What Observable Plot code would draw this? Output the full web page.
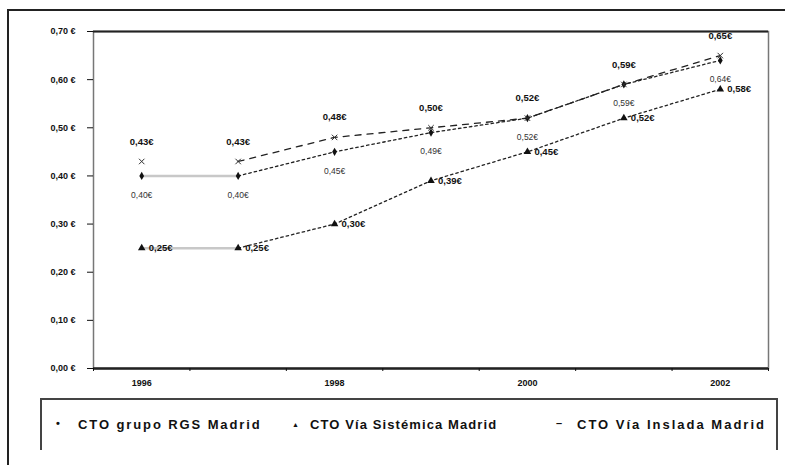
<!DOCTYPE html>
<html>
<head>
<meta charset="utf-8">
<script src="https://cdn.jsdelivr.net/npm/d3@7"></script>
<script src="https://cdn.jsdelivr.net/npm/@observablehq/plot@0.6"></script>
<style>
  html, body { margin: 0; padding: 0; background: #fff; overflow: hidden; }
  body { width: 785px; height: 465px; position: relative; font-family: "Liberation Sans", Arial, sans-serif; }
  #chart { position: absolute; left: 0; top: 0; }
  #outer { position: absolute; left: 7px; top: 9px; width: 776px; height: 454px; border-left: 2px solid #222; border-top: 2px solid #222; pointer-events: none; }
  #legend { position: absolute; left: 40px; top: 398px; width: 738px; height: 52px; border: 2px solid #444; border-bottom: none; box-sizing: border-box; }
  .item { position: absolute; top: 17px; font-size: 13px; font-weight: bold; letter-spacing: 1.6px; color: #111; white-space: nowrap; }
  .mk { position: absolute; top: 17px; font-size: 11px; font-weight: bold; color: #111; }
</style>
</head>
<body>
<div id="chart"></div>
<div id="outer"></div>
<div id="legend"></div>
<script>
const years = [1996, 1997, 1998, 1999, 2000, 2001, 2002];
const labelYears = [1996, 1998, 2000, 2002];
const seriesNames = ["CTO grupo RGS Madrid", "CTO Vía Sistémica Madrid", "CTO Vía Inslada Madrid"];
const rgs = [0.40, 0.40, 0.45, 0.49, 0.52, 0.59, 0.64];
const sistemica = [0.25, 0.25, 0.30, 0.39, 0.45, 0.52, 0.58];
const aislada = [0.43, 0.43, 0.48, 0.50, 0.52, 0.59, 0.65];
const yTicks = [0, 0.1, 0.2, 0.3, 0.4, 0.5, 0.6, 0.7];

const toRows = (vals, s) => years.map((yr, i) => ({year: yr, value: vals[i], series: s}));
const rRgs = toRows(rgs, seriesNames[0]);
const rSis = toRows(sistemica, seriesNames[1]);
const rAis = toRows(aislada, seriesNames[2]);
const boundaries = years.map(y => y - 0.5).concat([years[years.length - 1] + 0.5]);
const euro = v => v.toFixed(2).replace(".", ",") + "€";
const early = r => r.year <= years[1];
const late = r => r.year >= years[1];

const plot = Plot.plot({
  width: 785,
  height: 398,
  marginLeft: 93,
  marginRight: 17,
  marginTop: 31,
  marginBottom: 30,
  style: {fontFamily: "Liberation Sans, Arial, sans-serif", fontSize: "9px", background: "transparent", color: "#111"},
  x: {type: "linear", domain: [boundaries[0], boundaries[boundaries.length - 1]], label: null},
  y: {domain: [0, 0.7], label: null},
  marks: [
    Plot.frame({stroke: "#777", strokeWidth: 1.5}),
    Plot.ruleY([0.7], {stroke: "#222", strokeWidth: 2}),
    Plot.ruleY([0], {stroke: "#222", strokeWidth: 2.5}),
    Plot.axisY({ticks: yTicks, tickSize: 6, tickPadding: 12, fontWeight: "bold", fontSize: 9, label: null,
      tickFormat: d => d.toFixed(2).replace(".", ",") + " €"}),
    Plot.axisX({ticks: boundaries, tickSize: 3, tickFormat: () => "", label: null}),
    Plot.axisX({ticks: labelYears, tickSize: 0, tickPadding: 11, fontWeight: "bold", fontSize: 9, label: null, tickFormat: d => String(d)}),
    Plot.line(rRgs.filter(early), {x: "year", y: "value", stroke: "#c8c8c8", strokeWidth: 2.5}),
    Plot.line(rSis.filter(early), {x: "year", y: "value", stroke: "#c8c8c8", strokeWidth: 2.5}),
    Plot.line(rRgs.filter(late), {x: "year", y: "value", stroke: "#222", strokeWidth: 1.3, strokeDasharray: "2.5,3"}),
    Plot.line(rSis.filter(late), {x: "year", y: "value", stroke: "#222", strokeWidth: 1.3, strokeDasharray: "2.5,3"}),
    Plot.line(rAis.filter(late), {x: "year", y: "value", stroke: "#222", strokeWidth: 1.3, strokeDasharray: "6,6"}),
    Plot.dot(rRgs, {x: "year", y: "value", symbol: "diamond", r: 2.5, fill: "#111"}),
    Plot.dot(rSis, {x: "year", y: "value", symbol: "triangle", r: 2.8, fill: "#111"}),
    Plot.dot(rAis, {x: "year", y: "value", symbol: "times", r: 2.6, stroke: "#333", strokeWidth: 1}),
    Plot.text(rRgs, {x: "year", y: "value", text: d => euro(d.value), dy: 19, fontSize: 8.5, fill: "#333"}),
    Plot.text(rSis, {x: "year", y: "value", text: d => euro(d.value), dx: 7, textAnchor: "start", fontSize: 9.5, fontWeight: "bold", fill: "#111"}),
    Plot.text(rAis, {x: "year", y: "value", text: d => euro(d.value), dy: -20, fontSize: 9.5, fontWeight: "bold", fill: "#111"})
  ]
});
document.getElementById("chart").appendChild(plot);

const legend = document.getElementById("legend");
const legendMarks = ["•", "▲", "–"];
const markX = [14, 250, 514];
const textX = [36, 268, 535];
const spacing = ["1.9px", "1.1px", "2px"];
seriesNames.forEach((name, i) => {
  const m = document.createElement("div");
  m.className = "mk";
  m.style.left = markX[i] + "px";
  m.textContent = legendMarks[i];
  if (i === 1) { m.style.fontSize = "7px"; m.style.top = "21px"; }
  legend.appendChild(m);
  const t = document.createElement("div");
  t.className = "item";
  t.style.left = textX[i] + "px";
  t.style.letterSpacing = spacing[i];
  t.textContent = name;
  legend.appendChild(t);
});
</script>
</body>
</html>
